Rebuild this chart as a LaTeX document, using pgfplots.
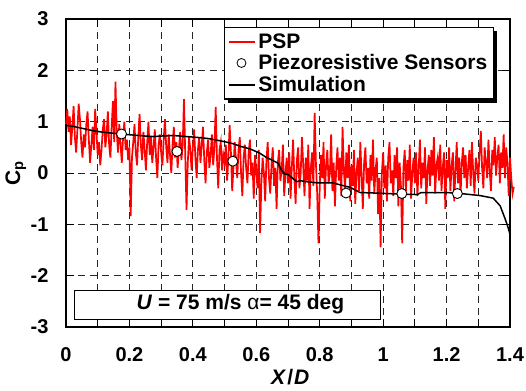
\documentclass[border=0pt]{standalone}
\usepackage{pgfplots}
\pgfplotsset{compat=1.18}
\usepackage{pgfplotstable}
\usepackage{fontspec}
\setmainfont{Liberation Sans}
\usetikzlibrary{shadows}
\makeatletter
\tikzset{no preactions/.code={\def\tikz@preactions{}}}
\makeatother

\pgfplotstableread[row sep=\\]{
y\\
0.95\\ 1.25\\ 0.8\\ 1.1\\ 0.55\\ 0.9\\ 1.3\\ 0.7\\ 0.4\\ 0.85\\ 1.35\\ 1.05\\ 0.6\\ 0.3\\ 0.75\\ 0.5\\ 0.95\\ 1.2\\ 0.65\\ 0.2\\ 0.55\\ 0.9\\ 0.45\\ 1.25\\ 0.8\\
0.35\\ 0.6\\ 0.15\\ 0.45\\ 0.85\\ 1.05\\ 0.5\\ 0.75\\ 1.2\\ 0.55\\ 0.3\\ 0.9\\ 1.4\\ 0.6\\ 1.78\\ 0.8\\ 0.4\\ 0.95\\ 0.55\\ 0.2\\ 0.7\\ 1.0\\ 0.45\\ 0.65\\ 0.25\\
0.5\\ -0.84\\ 0.3\\ 0.6\\ 0.95\\ 0.4\\ 0.15\\ 0.7\\ 1.15\\ 0.55\\ 0.25\\ 0.8\\ 0.45\\ 0.05\\ 0.6\\ 1.0\\ 0.35\\ 0.7\\ 0.2\\ 0.5\\ 0.85\\ 0.3\\ -0.1\\ 0.55\\ 0.75\\
0.4\\ 0.15\\ 0.65\\ 1.05\\ 0.5\\ 0.2\\ 0.75\\ 0.35\\ 0.0\\ 0.55\\ 0.9\\ 0.3\\ 0.6\\ 0.1\\ 0.45\\ 0.8\\ 0.25\\ 0.55\\ 1.44\\ 0.35\\ -0.72\\ 0.2\\ 0.7\\ 0.45\\ 0.05\\
0.5\\ 0.85\\ 0.3\\ -0.1\\ 0.45\\ 0.7\\ 0.2\\ 0.55\\ 0.9\\ 0.25\\ -0.2\\ 0.4\\ 0.65\\ 0.1\\ 0.35\\ 0.75\\ 0.15\\ 0.5\\ 1.29\\ 0.3\\ -0.3\\ 0.45\\ 0.6\\ 0.05\\ 0.35\\
0.2\\ 0.55\\ -0.15\\ 0.3\\ 0.93\\ 0.4\\ -0.35\\ 0.1\\ 0.6\\ 0.25\\ -0.1\\ 0.45\\ 0.7\\ 0.0\\ -0.45\\ 0.3\\ 0.55\\ 0.1\\ -0.2\\ 0.4\\ 0.65\\ -0.05\\ 0.2\\ -0.5\\ 0.35\\
0.05\\ -0.3\\ 0.45\\ -1.17\\ -0.2\\ 0.3\\ 0.0\\ -0.55\\ 0.25\\ 0.6\\ -0.1\\ -0.4\\ 0.15\\ 0.5\\ -0.25\\ 0.1\\ -0.7\\ 0.2\\ 0.45\\ -0.15\\ 0.05\\ 0.55\\ -0.45\\ 0.0\\ 0.3\\
-0.2\\ 0.4\\ -0.5\\ 0.1\\ 0.65\\ -0.1\\ -0.6\\ 0.25\\ 0.5\\ -0.3\\ 0.0\\ 0.7\\ 0.15\\ -0.45\\ 0.3\\ -0.15\\ 0.55\\ -0.7\\ 0.1\\ 0.4\\ -0.25\\ 1.17\\ 0.2\\ -0.4\\ -1.37\\
-0.3\\ 0.35\\ -0.1\\ 0.6\\ -0.5\\ 0.15\\ 0.45\\ -0.2\\ 0.0\\ 0.75\\ -0.35\\ 0.2\\ -0.65\\ 0.1\\ 0.5\\ -0.15\\ 0.3\\ -0.45\\ 0.9\\ 0.05\\ -0.3\\ 0.4\\ -0.1\\ 0.55\\ -0.55\\
0.15\\ -0.25\\ 0.45\\ -0.6\\ 0.0\\ 0.3\\ -0.35\\ 0.6\\ -0.05\\ -0.7\\ 0.2\\ 0.5\\ -0.2\\ 0.1\\ -0.5\\ 0.35\\ -0.15\\ 0.65\\ -0.4\\ 0.05\\ 0.3\\ -0.8\\ -0.1\\ -1.45\\ 0.0\\
0.4\\ -0.3\\ 0.15\\ -0.55\\ 0.3\\ 0.6\\ -0.2\\ 0.05\\ -0.45\\ 0.35\\ -0.1\\ 0.5\\ -0.65\\ 0.2\\ -0.25\\ -1.37\\ 0.1\\ 0.45\\ -0.35\\ 0.25\\ -0.15\\ 0.55\\ -0.5\\ 0.0\\ 0.3\\
-0.2\\ 0.4\\ -0.45\\ 0.1\\ 0.65\\ -0.3\\ 0.2\\ -0.1\\ 0.5\\ -0.6\\ 0.05\\ 0.35\\ -0.25\\ 0.45\\ -0.05\\ 0.7\\ -0.4\\ 0.15\\ 0.3\\ -0.15\\ 0.55\\ -0.35\\ 0.1\\ 0.4\\ -0.7\\
0.25\\ -0.1\\ 0.5\\ -0.35\\ 0.15\\ 0.4\\ -0.55\\ 0.05\\ 0.6\\ -0.2\\ 0.3\\ -0.45\\ 0.2\\ 0.5\\ -0.1\\ 0.35\\ -0.3\\ 0.1\\ 0.45\\ -0.25\\ 0.6\\ 0.0\\ -0.4\\ 0.3\\ 0.15\\
-0.15\\ 0.4\\ 0.82\\ 0.1\\ -0.3\\ 0.5\\ 0.2\\ -0.1\\ 0.65\\ 0.05\\ -0.35\\ 0.45\\ 0.15\\ 0.7\\ -0.05\\ 0.3\\ 0.55\\ -0.2\\ 0.4\\ 0.1\\ 0.75\\ -0.1\\ 0.5\\ 0.2\\ -0.45\\
0.3\\ -0.1\\ -0.4\\ -0.27\\
}\psp

\pgfplotstableread{
x y
0 0.93
0.02 0.91
0.044 0.88
0.08 0.83
0.11 0.80
0.139 0.78
0.17 0.76
0.21 0.74
0.25 0.72
0.275 0.71
0.30 0.72
0.338 0.73
0.38 0.71
0.42 0.69
0.45 0.67
0.475 0.64
0.50 0.61
0.527 0.57
0.55 0.52
0.58 0.47
0.61 0.39
0.63 0.31
0.65 0.25
0.669 0.19
0.68 0.05
0.69 -0.02
0.70 -0.03
0.71 -0.08
0.716 -0.11
0.728 -0.17
0.738 -0.15
0.76 -0.17
0.79 -0.19
0.84 -0.19
0.87 -0.24
0.896 -0.28
0.927 -0.38
0.97 -0.39
1.05 -0.41
1.107 -0.42
1.12 -0.38
1.2 -0.38
1.26 -0.41
1.306 -0.44
1.347 -0.49
1.369 -0.64
1.385 -0.9
1.395 -1.08
1.4 -1.2
}\sim

\pgfplotstableread{
x y
0.175 0.76
0.35 0.42
0.526 0.23
0.883 -0.39
1.059 -0.40
1.234 -0.40
}\sensors

\begin{document}
\begin{tikzpicture}
\path[use as bounding box] (-66pt,-63pt) rectangle (460pt,327pt);
\begin{axis}[
  at={(0pt,0pt)}, anchor=south west,
  scale only axis, width=444pt, height=308pt,
  xmin=0, xmax=1.4, ymin=-3, ymax=3,
  clip=false,
  xtick={0,0.2,...,1.41},
  xticklabels={0,0.2,0.4,0.6,0.8,1,1.2,1.4},
  minor x tick num=1,
  ytick={-3,-2,-1,0,1,2,3},
  yticklabels={-3,-2,-1,0,1,2,3},
  tick align=inside,
  major tick length=8pt, minor tick length=8pt,
  every tick/.style={black, line width=0.8pt},
  grid=both,
  major grid style={black!85, line width=0.8pt, dash pattern=on 7pt off 5pt},
  minor grid style={black!85, line width=0.8pt, dash pattern=on 7pt off 5pt},
  axis line style={line width=2.5pt},
  tick label style={font=\fontsize{20}{20}\selectfont\bfseries},
  xticklabel style={yshift=-17pt},
  yticklabel style={xshift=-14pt},
  xlabel={\textbf{\textit{X}\kern1pt/\kern1pt\textit{D}}},
  xlabel style={font=\fontsize{21}{21}\selectfont, at={(axis description cs:0.505,-0.163)}, anchor=center},
  ylabel={\textbf{C\textsubscript{p}}},
  ylabel style={font=\fontsize{21}{21}\selectfont, at={(axis description cs:-0.113,0.5)}, anchor=center},
  legend style={at={(axis description cs:0.964,0.975)}, anchor=north east,
     draw=black, line width=1.5pt, fill=white,
     drop shadow={opacity=1, fill=black, shadow xshift=4pt, shadow yshift=-4pt},
     font=\fontsize{21}{21}\selectfont\bfseries,
     inner xsep=4pt, inner ysep=4pt, row sep=1pt},
  legend cell align=left,
]
\addplot[red, line width=1.7pt, forget plot] table[x expr=\coordindex*0.004, y=y] {\psp};
\addlegendimage{legend image code/.code={\draw[no preactions, draw=red, line width=2pt] (0pt,0pt) -- (26pt,0pt);}}
\addlegendentry{PSP}
\addlegendimage{legend image code/.code={\draw[no preactions, draw=black, fill=white, line width=0.8pt] (12pt,0pt) circle (4.5pt);}}
\addlegendentry{Piezoresistive Sensors}
\addlegendimage{legend image code/.code={\draw[no preactions, draw=black, line width=2pt] (0pt,0pt) -- (26pt,0pt);}}
\addlegendentry{Simulation}
\addplot[black, line width=1.5pt, forget plot] table[x=x, y=y] {\sim};
\addplot[only marks, mark=*, mark size=5pt, mark options={fill=white, draw=black, line width=0.9pt}, forget plot] table[x=x, y=y] {\sensors};
\draw[black, line width=1pt, fill=white] (axis cs:0.028,-2.28) rectangle (axis cs:0.993,-2.845);
\node[font=\fontsize{21}{21}\selectfont\bfseries] at (axis cs:0.55,-2.56) {\textit{U} = 75 m/s {\mdseries α}= 45 deg};
\end{axis}
\end{tikzpicture}
\end{document}
